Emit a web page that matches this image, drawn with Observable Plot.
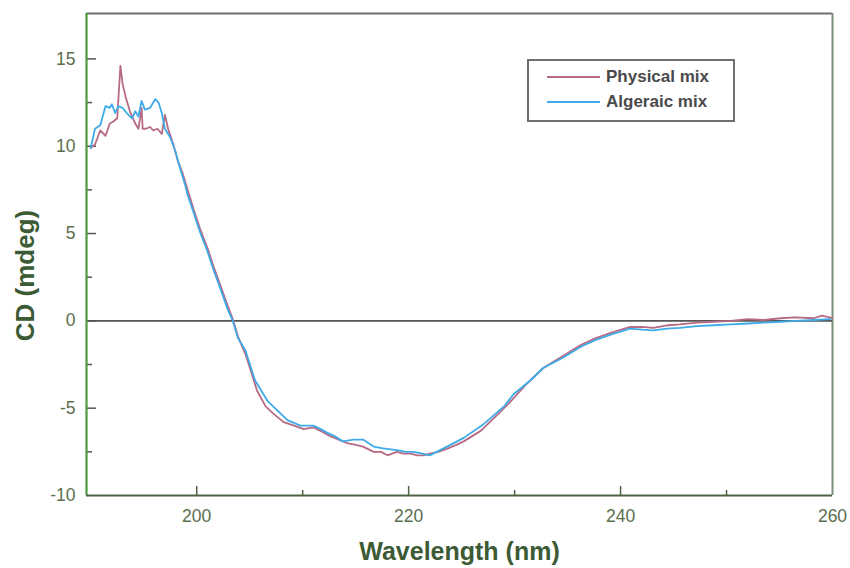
<!DOCTYPE html>
<html><head><meta charset="utf-8">
<script src="https://cdn.jsdelivr.net/npm/d3@7"></script>
<script src="https://cdn.jsdelivr.net/npm/@observablehq/plot@0.6"></script>
<style>
body{margin:0;background:#fff;}
#wrap{position:relative;width:850px;height:568px;font-family:"Liberation Sans",Arial,sans-serif;}
#legend{position:absolute;left:527px;top:59px;width:204px;height:59px;border:2px solid #707070;background:#fff;}
.row{position:absolute;left:0;height:20px;display:flex;align-items:center;font-weight:bold;font-size:17px;color:#4a4a4a;white-space:nowrap;}
.sw{display:inline-block;width:53px;height:2px;margin-left:18px;margin-right:6px;}
</style></head><body>
<div id="wrap"></div>
<script>
// ---- data ----
const seriesNames = ["Physical mix", "Algeraic mix"];
const seriesColors = ["#b76a84", "#3eaae8"];

const physWl = [190.0,190.4,190.9,191.4,191.8,192.1,192.5,192.8,193.0,193.3,193.7,194.2,194.5,194.8,194.9,195.2,195.6,195.9,196.3,196.7,197.0,197.3,197.8,198.2,198.7,199.1,199.7,200.3,201.0,201.6,202.2,202.9,203.4,203.9,204.6,205.7,206.5,207.2,208.2,209.2,210.1,211.0,211.7,212.6,213.4,214.2,215.0,215.7,216.7,217.4,218.0,218.9,219.5,220.2,220.8,221.4,222.0,222.8,223.7,224.5,225.2,226.8,228.0,229.5,231.0,232.7,234.6,236.2,237.6,239.0,240.9,242.0,243.1,244.5,245.6,247.2,248.8,250.4,252.0,253.5,255.1,256.5,258.2,259.0,260.0];
const physCd = [9.9,10.1,10.9,10.6,11.3,11.4,11.6,14.6,13.6,12.8,12.0,11.3,11.0,12.2,11.0,11.0,11.1,10.9,11.0,10.7,11.8,11.0,10.1,9.2,8.4,7.6,6.4,5.3,4.2,3.1,2.1,0.9,0.1,-0.9,-1.9,-4.0,-4.9,-5.3,-5.8,-6.0,-6.2,-6.1,-6.3,-6.6,-6.8,-7.0,-7.1,-7.2,-7.5,-7.5,-7.7,-7.5,-7.6,-7.6,-7.7,-7.7,-7.6,-7.5,-7.3,-7.1,-6.9,-6.3,-5.6,-4.7,-3.7,-2.7,-2.0,-1.4,-1.0,-0.7,-0.35,-0.35,-0.4,-0.25,-0.2,-0.1,-0.05,0.0,0.1,0.05,0.15,0.2,0.15,0.3,0.15];

const algWl = [190.0,190.4,190.9,191.4,191.8,192.0,192.3,192.6,193.0,193.4,193.9,194.2,194.5,194.8,195.1,195.6,196.1,196.4,196.7,197.0,197.5,198.0,198.4,198.9,199.1,199.7,200.3,201.0,201.6,202.2,202.9,203.4,203.9,204.6,205.5,206.7,207.9,208.6,209.8,211.0,211.7,212.3,213.0,213.8,214.8,215.7,216.7,217.6,218.9,219.7,220.5,221.3,222.0,223.3,225.2,227.1,229.0,229.9,231.5,232.7,234.6,236.2,237.6,239.0,240.9,242.0,243.1,244.4,245.6,247.2,248.8,250.4,252.0,253.5,255.1,256.6,258.2,259.8];
const algCd = [9.9,11.0,11.2,12.3,12.2,12.4,11.9,12.3,12.2,11.9,11.6,12.0,11.7,12.6,12.1,12.2,12.7,12.5,11.9,11.0,10.5,9.7,8.8,7.8,7.3,6.2,5.1,4.0,2.9,1.9,0.7,0.0,-1.0,-1.7,-3.4,-4.6,-5.3,-5.7,-6.0,-6.0,-6.2,-6.4,-6.6,-6.9,-6.8,-6.8,-7.2,-7.3,-7.4,-7.5,-7.5,-7.6,-7.7,-7.3,-6.7,-5.9,-4.9,-4.2,-3.4,-2.7,-2.1,-1.5,-1.1,-0.8,-0.45,-0.5,-0.55,-0.45,-0.4,-0.3,-0.25,-0.2,-0.15,-0.1,-0.05,0.0,0.05,0.1];

const xTickLabels = [200, 220, 240, 260];
const xMinorTicks = [210, 230, 250];
const yTickLabels = [15, 10, 5, 0, -5, -10];
const yMinorTicks = [12.5, 7.5, 2.5, -2.5, -7.5];
const xDomain = [189.6, 260];
const yDomain = [-10, 17.6];

const physical = physWl.map((w, i) => ({wl: w, cd: physCd[i]}));
const algeraic = algWl.map((w, i) => ({wl: w, cd: algCd[i]}));

const W = 850, H = 568, mL = 86, mR = 18, mT = 13, mB = 73;
const plotW = W - mL - mR, plotH = H - mT - mB;
const font = "'Liberation Sans', Arial, sans-serif";
const tickColor = "#5a6e4e";
const fmt = d => String(d);

const chart = Plot.plot({
  width: W, height: H,
  marginLeft: mL, marginRight: mR, marginTop: mT, marginBottom: mB,
  style: {fontFamily: font, background: "#fff"},
  x: {domain: xDomain, axis: null},
  y: {domain: yDomain, axis: null},
  marks: [
    // frame
    Plot.ruleY([yDomain[1]], {stroke: "#6e6e6e", strokeWidth: 2}),
    Plot.ruleX([xDomain[1]], {stroke: "#7c8e7c", strokeWidth: 2}),
    // zero line
    Plot.ruleY([0], {stroke: "#555", strokeWidth: 1.6}),
    // inward ticks
    Plot.tickY(yTickLabels.filter(d => d > yDomain[0]), {stroke: "#555", strokeWidth: 1.5, insetRight: plotW - 10}),
    Plot.tickY(yMinorTicks, {stroke: "#555", strokeWidth: 1.5, insetRight: plotW - 6}),
    Plot.tickX(xTickLabels.filter(d => d < xDomain[1]), {stroke: "#4f6442", strokeWidth: 1.5, insetTop: plotH - 9}),
    Plot.tickX(xMinorTicks, {stroke: "#4f6442", strokeWidth: 1.5, insetTop: plotH - 5}),
    // tick labels
    Plot.axisY(yTickLabels, {tickSize: 0, tickPadding: 11, fontSize: 17.5, fill: tickColor, label: null, tickFormat: fmt}),
    Plot.axisX(xTickLabels, {tickSize: 0, tickPadding: 14, fontSize: 17.5, fill: tickColor, label: null, tickFormat: fmt}),
    // axis titles
    Plot.text(["Wavelength (nm)"], {frameAnchor: "bottom", dy: 56, fontSize: 25, fontWeight: "bold", fill: "#3c5a34", textAnchor: "middle", lineAnchor: "middle"}),
    Plot.text(["CD (mdeg)"], {frameAnchor: "left", dx: -61, dy: 21, rotate: -90, fontSize: 26, fontWeight: "bold", fill: "#3c5a34", textAnchor: "middle", lineAnchor: "middle"}),
    // data
    Plot.line(physical, {x: "wl", y: "cd", stroke: seriesColors[0], strokeWidth: 1.8}),
    Plot.line(algeraic, {x: "wl", y: "cd", stroke: seriesColors[1], strokeWidth: 1.8}),
    // axis lines
    Plot.ruleX([xDomain[0]], {stroke: "#4b9a3c", strokeWidth: 2.2}),
    Plot.ruleY([yDomain[0]], {stroke: "#4f6442", strokeWidth: 2.2})
  ]
});

const wrap = document.getElementById("wrap");
wrap.appendChild(chart);

const legend = document.createElement("div");
legend.id = "legend";
seriesNames.forEach((name, i) => {
  const row = document.createElement("div");
  row.className = "row";
  row.style.top = (i === 0 ? 6 : 31) + "px";
  const sw = document.createElement("span");
  sw.className = "sw";
  sw.style.background = seriesColors[i];
  row.appendChild(sw);
  row.appendChild(document.createTextNode(name));
  legend.appendChild(row);
});
wrap.appendChild(legend);
</script>
</body></html>
